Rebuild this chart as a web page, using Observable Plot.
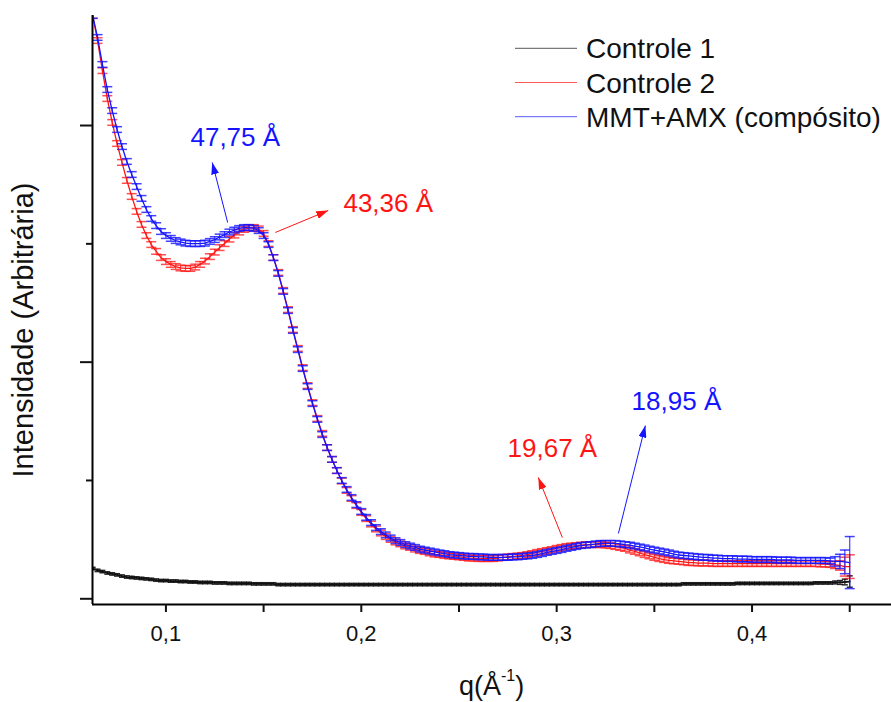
<!DOCTYPE html>
<html>
<head>
<meta charset="utf-8">
<script src="https://cdn.jsdelivr.net/npm/d3@7"></script>
<script src="https://cdn.jsdelivr.net/npm/@observablehq/plot@0.6"></script>
<style>
  html, body { margin: 0; padding: 0; background: #fff; overflow: hidden; }
</style>
</head>
<body>
<div id="chart"></div>
<script>
// Scattering vector q (Å^-1)
const q = [
  0.0625,0.065,0.0675,0.07,0.0725,0.075,0.0775,0.08,0.0825,0.085,0.0875,0.09,0.0925,0.095,0.0975,0.1,
  0.1025,0.105,0.1075,0.11,0.1125,0.115,0.1175,0.12,0.1225,0.125,0.1275,0.13,0.1325,0.135,0.1375,0.14,
  0.1425,0.145,0.1475,0.15,0.1525,0.155,0.1575,0.16,0.1625,0.165,0.1675,0.17,0.1725,0.175,0.1775,0.18,
  0.1825,0.185,0.1875,0.19,0.1925,0.195,0.1975,0.2,0.2025,0.205,0.2075,0.21,0.2125,0.215,0.2175,0.22,
  0.2225,0.225,0.2275,0.23,0.2325,0.235,0.2375,0.24,0.2425,0.245,0.2475,0.25,0.2525,0.255,0.2575,0.26,
  0.2625,0.265,0.2675,0.27,0.2725,0.275,0.2775,0.28,0.2825,0.285,0.2875,0.29,0.2925,0.295,0.2975,0.3,
  0.3025,0.305,0.3075,0.31,0.3125,0.315,0.3175,0.32,0.3225,0.325,0.3275,0.33,0.3325,0.335,0.3375,0.34,
  0.3425,0.345,0.3475,0.35,0.3525,0.355,0.3575,0.36,0.3625,0.365,0.3675,0.37,0.3725,0.375,0.3775,0.38,
  0.3825,0.385,0.3875,0.39,0.3925,0.395,0.3975,0.4,0.4025,0.405,0.4075,0.41,0.4125,0.415,0.4175,0.42,
  0.4225,0.425,0.4275,0.43,0.4325,0.435,0.4375,0.44,0.4425,0.445,0.4475,0.45
];

// Intensity (arbitrary units), one value per q
const controle1 = [
  0.128,0.120,0.115,0.109,0.105,0.101,0.096,0.092,0.090,0.088,0.086,0.084,0.082,0.079,0.077,0.077,
  0.075,0.075,0.073,0.073,0.071,0.071,0.069,0.069,0.069,0.067,0.067,0.067,0.065,0.065,0.065,0.065,
  0.065,0.063,0.063,0.063,0.063,0.063,0.060,0.060,0.060,0.060,0.060,0.060,0.060,0.060,0.060,0.060,
  0.060,0.060,0.060,0.060,0.060,0.060,0.060,0.060,0.060,0.060,0.060,0.060,0.060,0.060,0.060,0.060,
  0.060,0.060,0.060,0.060,0.060,0.060,0.060,0.060,0.060,0.060,0.060,0.060,0.060,0.060,0.060,0.060,
  0.060,0.060,0.060,0.060,0.060,0.060,0.060,0.060,0.060,0.060,0.060,0.060,0.060,0.060,0.060,0.060,
  0.060,0.060,0.060,0.060,0.060,0.060,0.060,0.060,0.060,0.060,0.060,0.060,0.060,0.060,0.060,0.060,
  0.060,0.060,0.060,0.060,0.060,0.060,0.060,0.060,0.060,0.063,0.063,0.063,0.063,0.063,0.063,0.063,
  0.063,0.063,0.063,0.063,0.065,0.065,0.065,0.065,0.065,0.065,0.065,0.065,0.065,0.065,0.065,0.065,
  0.065,0.065,0.065,0.065,0.067,0.067,0.067,0.067,0.069,0.069,0.071,0.073
];

const controle2 = [
  2.465,2.359,2.232,2.114,2.013,1.924,1.844,1.768,1.700,1.637,1.582,1.535,1.497,1.468,1.442,1.425,
  1.413,1.404,1.398,1.396,1.396,1.402,1.413,1.427,1.446,1.465,1.484,1.501,1.520,1.537,1.550,1.561,
  1.567,1.569,1.563,1.544,1.501,1.442,1.379,1.303,1.222,1.138,1.058,0.977,0.901,0.829,0.762,0.699,
  0.639,0.589,0.542,0.498,0.458,0.424,0.394,0.365,0.339,0.316,0.295,0.278,0.263,0.251,0.240,0.232,
  0.223,0.217,0.210,0.204,0.200,0.194,0.189,0.187,0.183,0.181,0.179,0.177,0.175,0.172,0.172,0.170,
  0.170,0.170,0.170,0.172,0.175,0.177,0.179,0.181,0.183,0.187,0.191,0.196,0.200,0.204,0.208,0.213,
  0.217,0.221,0.223,0.225,0.227,0.229,0.229,0.229,0.229,0.227,0.225,0.221,0.217,0.213,0.206,0.200,
  0.194,0.187,0.181,0.175,0.170,0.166,0.162,0.160,0.158,0.156,0.153,0.153,0.151,0.151,0.151,0.149,
  0.149,0.149,0.149,0.149,0.149,0.149,0.149,0.149,0.149,0.149,0.149,0.149,0.149,0.149,0.149,0.149,
  0.149,0.149,0.149,0.149,0.149,0.147,0.147,0.145,0.143,0.141,0.136,0.136
];

const composito = [
  2.465,2.372,2.258,2.152,2.063,1.983,1.911,1.848,1.793,1.742,1.692,1.645,1.607,1.577,1.552,1.535,
  1.523,1.514,1.508,1.503,1.501,1.501,1.501,1.503,1.510,1.518,1.529,1.539,1.550,1.558,1.565,1.569,
  1.569,1.565,1.556,1.535,1.497,1.442,1.375,1.299,1.218,1.134,1.053,0.973,0.897,0.825,0.758,0.694,
  0.639,0.589,0.542,0.500,0.462,0.428,0.398,0.369,0.344,0.322,0.301,0.284,0.270,0.257,0.246,0.238,
  0.229,0.223,0.217,0.210,0.206,0.202,0.198,0.194,0.191,0.187,0.185,0.183,0.181,0.179,0.179,0.177,
  0.177,0.175,0.175,0.175,0.175,0.175,0.177,0.177,0.179,0.181,0.183,0.187,0.191,0.196,0.200,0.204,
  0.208,0.213,0.217,0.221,0.225,0.227,0.229,0.232,0.234,0.234,0.234,0.234,0.232,0.229,0.227,0.223,
  0.219,0.215,0.210,0.206,0.202,0.198,0.194,0.189,0.185,0.183,0.181,0.179,0.177,0.175,0.175,0.172,
  0.172,0.170,0.170,0.170,0.168,0.168,0.168,0.166,0.166,0.166,0.166,0.166,0.164,0.164,0.164,0.164,
  0.162,0.162,0.162,0.162,0.162,0.162,0.162,0.160,0.158,0.158,0.156,0.153
];

const seriesNames = ["Controle 1", "Controle 2", "MMT+AMX (compósito)"];
const seriesValues = [controle1, controle2, composito];
const seriesColors = ["#111111", "#ff1414", "#1414ff"];
// error bar half-heights: a typical value, and the last four points of each series
const typicalError = [0.005, 0.012, 0.012];
const tailErrors = [
  [0.006, 0.008, 0.012, 0.024],
  [0.015, 0.020, 0.040, 0.050],
  [0.020, 0.030, 0.050, 0.110]
];

// Peak annotations: d-spacing (Å), label position, arrow from curve to label
const peakSeries = [2, 1, 1, 2];
const peakSpacing = [47.75, 43.36, 19.67, 18.95];
const labelQ = [0.1355, 0.2138, 0.2978, 0.3613];
const labelI = [1.949, 1.670, 0.635, 0.834];
const arrowFromQ = [0.1316, 0.1560, 0.3029, 0.3316];
const arrowFromI = [1.590, 1.548, 0.259, 0.276];
const arrowToQ = [0.1237, 0.1831, 0.2906, 0.3454];
const arrowToI = [1.844, 1.641, 0.513, 0.732];

const xTicks = [0.1, 0.15, 0.2, 0.25, 0.3, 0.35, 0.4, 0.45];
const yMajorTicks = [0, 1, 2];
const yMinorTicks = [0.5, 1.5];
const xDomain = [0.06242, 0.47138];
const yDomain = [-0.0241, 2.4649];

const n = q.length;
const rowsFor = s => q.map((qq, i) => ({
  q: qq,
  v: seriesValues[s][i],
  e: i >= n - 4 ? tailErrors[s][i - (n - 4)] : typicalError[s]
}));

// horizontal cap drawn at the ends of each error bar
const capSymbol = {
  draw(context, size) {
    const r = Math.sqrt(size / Math.PI);
    context.moveTo(-r, 0);
    context.lineTo(r, 0);
  }
};

function seriesMarks(s, capR, lineWidth, capOpacity) {
  const rows = rowsFor(s);
  const color = seriesColors[s];
  return [
    Plot.ruleX(rows, {x: "q", y1: d => d.v - d.e, y2: d => d.v + d.e, stroke: color, strokeWidth: 1.2, strokeOpacity: capOpacity, clip: true}),
    Plot.dot(rows, {x: "q", y: d => d.v - d.e, symbol: capSymbol, r: capR, fill: "none", stroke: color, strokeWidth: 1.5, strokeOpacity: capOpacity, clip: true}),
    Plot.dot(rows, {x: "q", y: d => d.v + d.e, symbol: capSymbol, r: capR, fill: "none", stroke: color, strokeWidth: 1.5, strokeOpacity: capOpacity, clip: true}),
    Plot.line(rows, {x: "q", y: "v", stroke: color, strokeWidth: lineWidth, clip: true})
  ];
}

const peaks = peakSpacing.map((d, i) => ({
  label: d.toFixed(2).replace(".", ",") + " Å",
  color: seriesColors[peakSeries[i]],
  lx: labelQ[i], ly: labelI[i],
  x1: arrowFromQ[i], y1: arrowFromI[i], x2: arrowToQ[i], y2: arrowToI[i],
  marker: peakSeries[i] === 1 ? "head-red" : "head-blue"
}));

const fmtX = d => Math.abs(d * 10 - Math.round(d * 10)) < 1e-9 ? d.toFixed(1).replace(".", ",") : "";

const chart = Plot.plot({
  width: 891,
  height: 702,
  marginLeft: 92,
  marginRight: 0,
  marginTop: 15,
  marginBottom: 98,
  x: {domain: xDomain},
  y: {domain: yDomain},
  style: {fontFamily: "'Liberation Sans', Arial, sans-serif", color: "#111", background: "#fff"},
  marks: [
    ...seriesMarks(0, 3, 1.8, 0.9),
    ...seriesMarks(1, 5, 1.3, 0.75),
    ...seriesMarks(2, 5, 1.3, 0.8),
    Plot.ruleY([yDomain[0]], {stroke: "#000", strokeWidth: 2}),
    Plot.ruleX([xDomain[0]], {stroke: "#000", strokeWidth: 2}),
    Plot.axisX(xTicks, {tickSize: 8, tickPadding: 13, tickFormat: fmtX, strokeWidth: 2, fontSize: 22, label: null}),
    Plot.axisY(yMajorTicks, {tickSize: 12, tickFormat: () => "", strokeWidth: 2, label: null}),
    Plot.axisY(yMinorTicks, {tickSize: 6, tickFormat: () => "", strokeWidth: 2, label: null}),
    Plot.link(peaks, {x1: "x1", y1: "y1", x2: "x2", y2: "y2", stroke: "color", strokeWidth: 1}),
    Plot.text(peaks, {x: "lx", y: "ly", text: "label", fill: "color", fontSize: 26, textAnchor: "middle"})
  ]
});

document.getElementById("chart").append(chart);

const svg = d3.select(chart);

// q tick labels: larger, dark text
svg.selectAll("text")
  .filter(function() { return /^\s*0,\d\s*$/.test(this.textContent); })
  .attr("font-size", 22)
  .style("font-size", "22px")
  .attr("fill", "#111");

// filled arrowheads on the annotation links
const defs = svg.append("defs");
[["head-red", seriesColors[1]], ["head-blue", seriesColors[2]]].forEach(([id, color]) => {
  defs.append("marker")
    .attr("id", id)
    .attr("viewBox", "0 0 12 8")
    .attr("refX", 12).attr("refY", 4)
    .attr("markerWidth", 12).attr("markerHeight", 8)
    .attr("markerUnits", "userSpaceOnUse")
    .attr("orient", "auto")
    .append("path").attr("d", "M0,0L12,4L0,8Z").attr("fill", color);
});
svg.selectAll('g[aria-label="link"] path').attr("marker-end", (d, i) => `url(#${peaks[i].marker})`);

// axis titles
svg.append("text")
  .attr("transform", "translate(33,330) rotate(-90)")
  .attr("text-anchor", "middle")
  .attr("font-size", 29)
  .attr("fill", "#111")
  .text("Intensidade (Arbitrária)");

const xt = svg.append("text")
  .attr("x", 459).attr("y", 695)
  .attr("text-anchor", "start")
  .attr("font-size", 27)
  .attr("fill", "#111");
xt.append("tspan").text("q(Å");
xt.append("tspan").attr("font-size", 16).attr("dy", -14).text("-1");
xt.append("tspan").attr("dy", 14).text(")");

// legend
const legend = svg.append("g").attr("text-anchor", "start");
seriesNames.forEach((name, i) => {
  const y = 48.3 + i * 34.2;
  legend.append("line")
    .attr("x1", 515).attr("x2", 577).attr("y1", y).attr("y2", y)
    .attr("stroke", seriesColors[i]).attr("stroke-width", 1).attr("stroke-opacity", 0.7);
  legend.append("text")
    .attr("x", 586).attr("y", y).attr("dy", "0.36em")
    .attr("text-anchor", "start")
    .attr("font-size", 28)
    .attr("fill", "#111")
    .text(name);
});
</script>
</body>
</html>
